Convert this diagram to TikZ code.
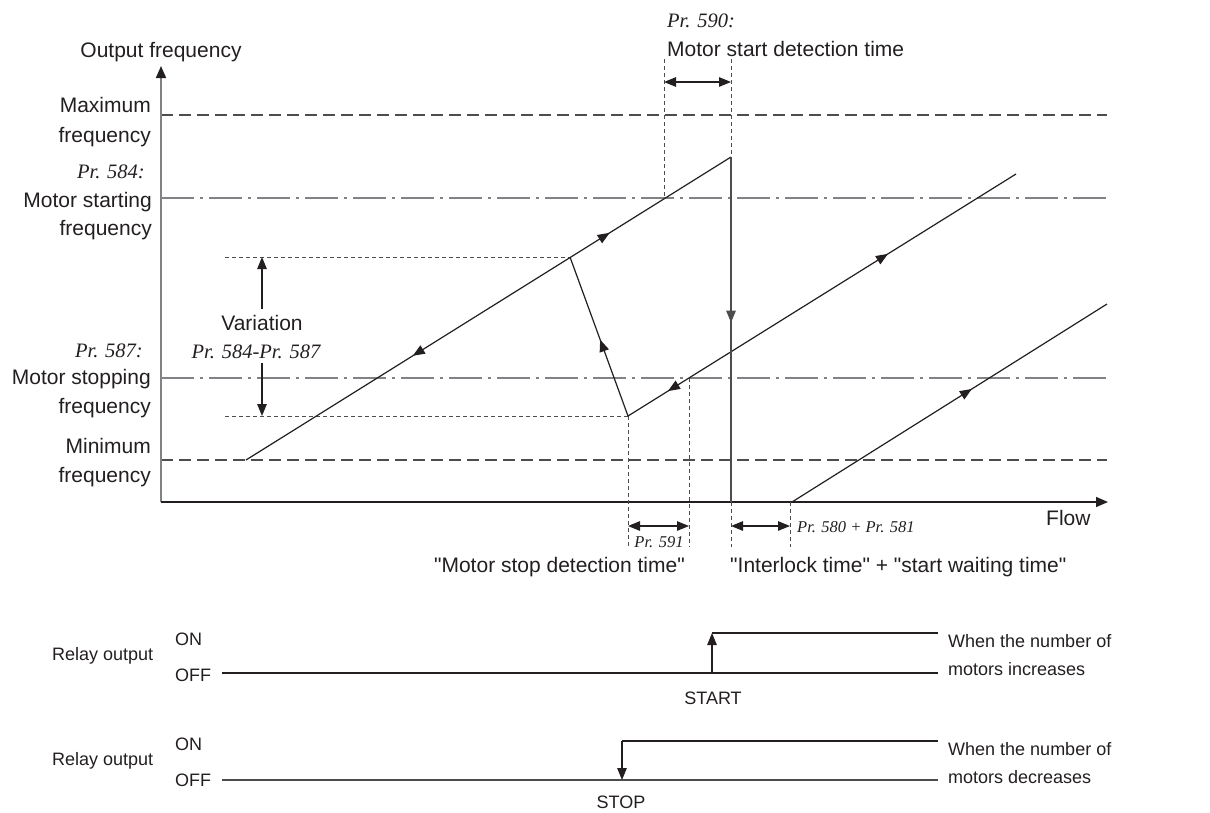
\documentclass[tikz,border=0pt]{standalone}
\usepackage{fontspec}
\setmainfont{Liberation Sans}[Ligatures=TeXOff]
\newfontfamily\prfont{Liberation Serif}
\usetikzlibrary{arrows.meta,decorations.markings}
\definecolor{ink}{HTML}{231F20}
\definecolor{dgray}{HTML}{4D4D4F}
\definecolor{mgray}{HTML}{808285}

\begin{document}
\begin{tikzpicture}[x=1pt,y=-1pt,
  tri/.tip={Triangle[length=12pt,width=9.5pt]},
  txt/.style={inner sep=0pt,text=ink,font=\fontsize{21}{25}\selectfont},
  rtxt/.style={inner sep=0pt,text=ink,font=\fontsize{18}{22}\selectfont},
  prtxt/.style={inner sep=0pt,text=ink,font=\prfont\itshape\fontsize{20.5}{24}\selectfont},
  prsmall/.style={inner sep=0pt,text=ink,font=\prfont\itshape\fontsize{16.5}{20}\selectfont},
  trace/.style={draw=ink,line width=1.2pt},
  limline/.style={draw=dgray,line width=1.3pt,dash pattern=on 12pt off 6pt},
  setline/.style={draw=mgray,line width=1.4pt,dash pattern=on 33pt off 6pt on 3pt off 6pt},
  guide/.style={draw=dgray,line width=1pt,dash pattern=on 4pt off 3pt},
  dim/.style={draw=ink,line width=1.2pt,{tri}-{tri}},
  fwd/.style={postaction={decorate,decoration={markings,mark=at position #1 with {\arrow{tri}}}}},
  bwd/.style={postaction={decorate,decoration={markings,mark=at position #1 with {\arrowreversed{tri}}}}}]
\useasboundingbox (0,0) rectangle (1210,812);
\coordinate (O) at (161,502);
\coordinate (fmin) at (246,460);
\coordinate (vtop) at (570,257);
\coordinate (peak) at (731,157);
\coordinate (vbot) at (628,416);
\coordinate (end2) at (1016,174);
\coordinate (foot) at (731,502);
\coordinate (st3) at (792,502);
\coordinate (end3) at (1107,304);

\draw[limline] (161,115) -- (1107,115);
\draw[setline] (161,198) -- (1107,198);
\draw[setline] (161,378) -- (1107,378);
\draw[limline] (161,460) -- (1107,460);
\draw[draw=mgray,line width=1.7pt,-{Triangle[length=12pt,width=10pt,color=ink]}] (O) -- (161,66);
\draw[draw=ink,line width=1.5pt,-{Triangle[length=12pt,width=10pt]}] (O) -- (1108,502);

\draw[guide] (225,257) -- (vtop);
\draw[guide] (225,416) -- (vbot);
\draw[trace,-tri] (262,309) -- (262,257);
\draw[trace,-tri] (262,363) -- (262,416);
\draw[guide] (664,59) -- (664,198);
\draw[guide] (731,59) -- (peak);
\draw[dim] (664,82) -- (731,82);
\draw[guide] (vbot) -- (628,547);
\draw[guide] (689,378) -- (689,547);
\draw[guide] (foot) -- (731,547);
\draw[guide] (790,502) -- (790,547);
\draw[dim] (628,526) -- (689,526);
\draw[dim] (731,526) -- (790,526);

\draw[trace,bwd=0.344,fwd=0.75] (fmin) -- (peak);
\draw[trace,bwd=0.52] (vtop) -- (vbot);
\draw[trace,bwd=0.103,fwd=0.67] (vbot) -- (end2);
\draw[trace,draw=dgray,line width=1.5pt,fwd=0.48] (peak) -- (foot);
\draw[trace,fwd=0.571] (st3) -- (end3);

\node[txt,anchor=base] (yname) at (161,57) {Output frequency};
\node[txt,anchor=base east] (maxa) at (151,112) {Maximum};
\node[txt,anchor=base east] (maxb) at (151,142) {frequency};
\node[prtxt,anchor=base east] (pr584) at (145,178) {Pr. 584:};
\node[txt,anchor=base east] (sta) at (152,207) {Motor starting};
\node[txt,anchor=base east] (stb) at (152,235) {frequency};
\node[prtxt,anchor=base east] (pr587) at (143,357) {Pr. 587:};
\node[txt,anchor=base east] (spa) at (151,384) {Motor stopping};
\node[txt,anchor=base east] (spb) at (151,413) {frequency};
\node[txt,anchor=base east] (mina) at (151,453) {Minimum};
\node[txt,anchor=base east] (minb) at (151,482) {frequency};
\node[txt,anchor=base] (var) at (262,330) {Variation};
\node[prtxt,anchor=base] (vardiff) at (256,358) {Pr. 584-Pr. 587};
\node[prtxt,anchor=base west] (pr590) at (667,27) {Pr. 590:};
\node[txt,anchor=base west] (stdet) at (667,56) {Motor start detection time};
\node[txt,anchor=base west] (flow) at (1046,525) {Flow};
\node[prsmall,anchor=base] (pr591) at (659,547) {Pr. 591};
\node[prsmall,anchor=base west] (pr580) at (797,532) {Pr. 580 + Pr. 581};
\node[txt,anchor=base east] (spdet) at (685,572) {"Motor stop detection time"};
\node[txt,anchor=base west] (ilock) at (730,572) {"Interlock time" + "start waiting time"};

\node[rtxt,anchor=base west] (rly1) at (52,660) {Relay output};
\node[rtxt,anchor=base west] (on1) at (175,645) {ON};
\node[rtxt,anchor=base west] (off1) at (175,681) {OFF};
\draw[trace] (222,673) -- (938,673);
\draw[trace] (712,633) -- (938,633);
\draw[trace,-tri] (712,673) -- (712,633);
\node[rtxt,anchor=base] (start) at (713,704) {START};
\node[rtxt,anchor=base west] (inc1) at (948,647) {When the number of};
\node[rtxt,anchor=base west] (inc2) at (948,675) {motors increases};

\node[rtxt,anchor=base west] (rly2) at (52,765) {Relay output};
\node[rtxt,anchor=base west] (on2) at (175,750) {ON};
\node[rtxt,anchor=base west] (off2) at (175,786) {OFF};
\draw[trace,draw=dgray] (222,780) -- (938,780);
\draw[trace] (622,741) -- (938,741);
\draw[trace,-tri] (622,741) -- (622,780);
\node[rtxt,anchor=base] (stop) at (621,808) {STOP};
\node[rtxt,anchor=base west] (dec1) at (948,755) {When the number of};
\node[rtxt,anchor=base west] (dec2) at (948,783) {motors decreases};
\end{tikzpicture}
\end{document}
